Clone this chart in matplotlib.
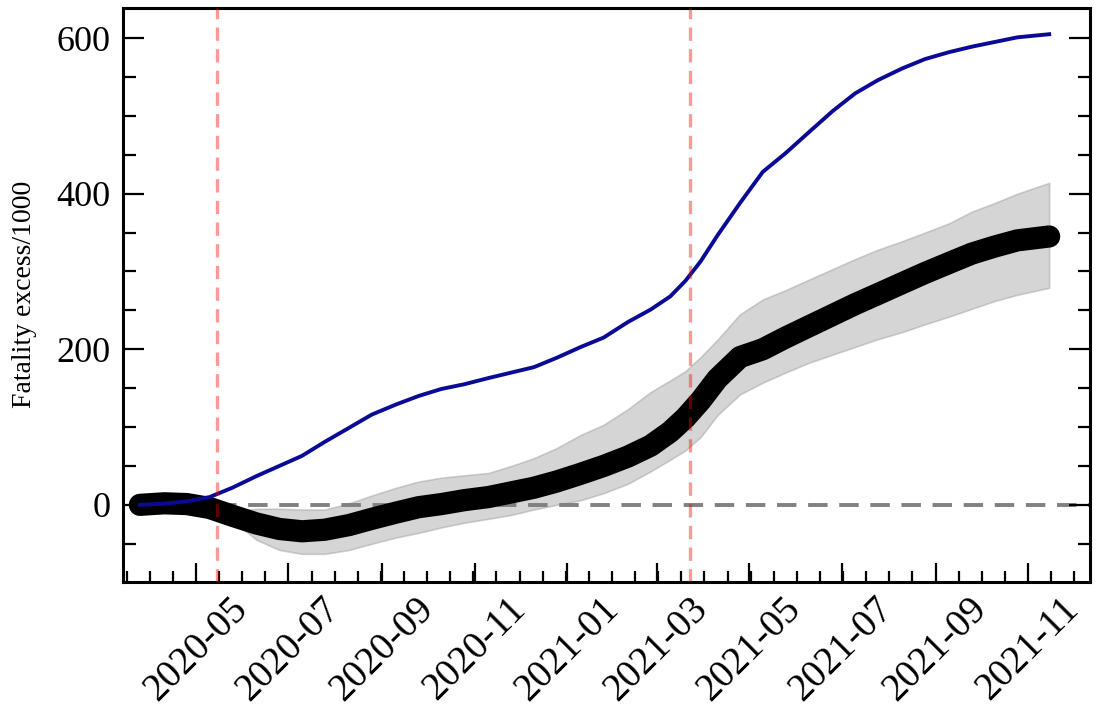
import matplotlib
matplotlib.use("Agg")
import matplotlib.pyplot as plt
import matplotlib.dates as mdates
from matplotlib.ticker import MultipleLocator, AutoMinorLocator
import numpy as np
import pandas as pd

plt.rcParams['font.family'] = ['Liberation Serif', 'DejaVu Serif']

dates = pd.to_datetime([
    "2020-03-25", "2020-04-10", "2020-04-25", "2020-05-10", "2020-05-25",
    "2020-06-10", "2020-06-25", "2020-07-10", "2020-07-25", "2020-08-10",
    "2020-08-25", "2020-09-10", "2020-09-25", "2020-10-10", "2020-10-25",
    "2020-11-10", "2020-11-25", "2020-12-10", "2020-12-25", "2021-01-10",
    "2021-01-25", "2021-02-10", "2021-02-25", "2021-03-10", "2021-03-20",
    "2021-03-30", "2021-04-10", "2021-04-25", "2021-05-10", "2021-05-25",
    "2021-06-10", "2021-06-25", "2021-07-10", "2021-07-25", "2021-08-10",
    "2021-08-25", "2021-09-10", "2021-09-25", "2021-10-10", "2021-10-25",
    "2021-11-15",
])

reported = [0, 1.5, 4.5, 10, 22, 37, 50, 63, 81, 99,
            116, 129, 140, 149, 155, 163, 170, 177, 189, 203,
            215, 235, 251, 268, 288, 313, 346, 388, 428, 452,
            480, 506, 529, 546, 561, 573, 582, 589, 595, 601,
            605]

excess = [0, 2, 1, -4, -14, -24, -31, -34, -32, -26,
          -18, -10, -3, 1, 6, 10, 16, 22, 30, 40,
          50, 62, 76, 94, 112, 134, 162, 190, 200, 215,
          230, 244, 258, 271, 285, 298, 311, 323, 332, 340,
          345]

excess_hi = [0, 2, 1, -4, -8, -5, -5, -6, -6, 2,
             12, 22, 30, 35, 38, 41, 50, 60, 73, 90,
             103, 123, 145, 160, 172, 190, 212, 245, 264, 276,
             290, 303, 316, 328, 339, 350, 362, 377, 388, 400,
             414]

excess_lo = [0, 2, 1, -4, -20, -45, -58, -63, -63, -58,
             -50, -42, -36, -29, -23, -18, -13, -6, 0, 6,
             15, 27, 43, 58, 70, 87, 115, 142, 157, 170,
             183, 193, 203, 213, 222, 232, 242, 252, 262, 270,
             279]

event_dates = pd.to_datetime(["2020-05-15", "2021-03-23"])
x_range = pd.to_datetime(["2020-03-14", "2021-12-12"])

fig = plt.figure(figsize=(11, 7.07), dpi=100)
ax = fig.add_axes([0.112, 0.177, 0.879, 0.812])

ax.hlines(0, event_dates[0], x_range[1], colors='grey', linestyles=(0, (5, 3)),
          linewidth=2.8, zorder=1)
ax.fill_between(dates, excess_lo, excess_hi, facecolor='grey', alpha=0.33,
                edgecolor='grey', linewidth=1.2, zorder=2)
ax.plot(dates, excess, color='black', linewidth=16, solid_capstyle='round',
        solid_joinstyle='round', zorder=3)
ax.plot(dates, reported, color='#0a0a96', linewidth=2.8, zorder=4)
for d in event_dates:
    ax.axvline(d, color='red', alpha=0.4, linewidth=2.4, linestyle=(0, (4, 2.5)), zorder=5)

ax.set_xlim(x_range[0], x_range[1])
ax.set_ylim(-99, 639)

ax.xaxis.set_major_locator(mdates.MonthLocator(bymonth=[1, 3, 5, 7, 9, 11]))
ax.xaxis.set_major_formatter(mdates.DateFormatter('%Y-%m'))
ax.xaxis.set_minor_locator(AutoMinorLocator(4))
ax.yaxis.set_major_locator(MultipleLocator(200))
ax.yaxis.set_minor_locator(MultipleLocator(50))

ax.tick_params(axis='both', which='both', direction='in', width=1.6)
ax.tick_params(axis='y', which='major', length=15, labelsize=26, pad=9,
               left=True, right=True)
ax.tick_params(axis='y', which='minor', length=9, left=True, right=True)
ax.tick_params(axis='x', which='major', length=14, labelsize=28, pad=6,
               top=False)
ax.tick_params(axis='x', which='minor', length=8, top=False)
for lab in ax.get_xticklabels():
    lab.set_rotation(45)
    lab.set_ha('center')

for s in ax.spines.values():
    s.set_linewidth(2.2)

ax.set_ylabel('Fatality excess/1000', fontsize=20, labelpad=14)

fig.savefig('out.png', dpi=100)
